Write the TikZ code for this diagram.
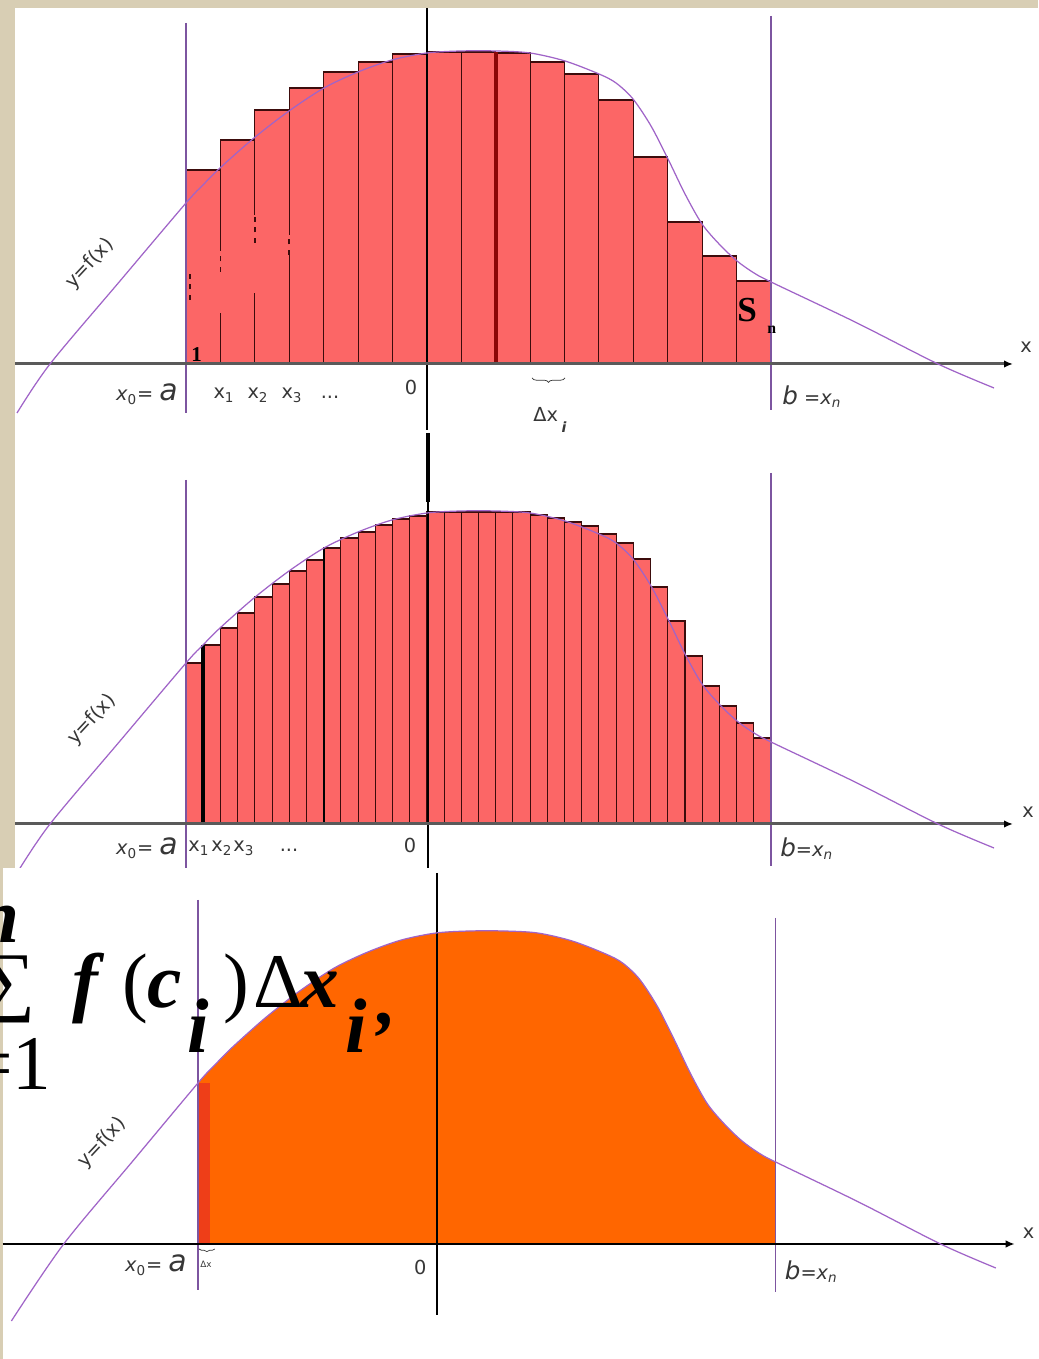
\documentclass[tikz,border=0pt]{standalone}
\usepackage{fontspec}
\setmainfont{Liberation Serif}
\newfontfamily\lblfont{DejaVu Sans}
\usepackage{tikz}
\usetikzlibrary{arrows.meta,decorations.pathreplacing}
\definecolor{paper}{RGB}{216,206,180}
\definecolor{barred}{RGB}{252,102,102}
\definecolor{barline}{RGB}{60,12,12}
\definecolor{areaorange}{RGB}{255,102,0}
\definecolor{stripred}{RGB}{238,62,24}
\definecolor{curvepurple}{RGB}{160,100,200}
\definecolor{boundpurple}{RGB}{125,85,160}
\definecolor{axisgray}{RGB}{90,90,90}
\definecolor{inkgray}{RGB}{55,55,55}
% the graph of f, started at the given lower-left point
\newcommand\fgraph[1]{plot[smooth] coordinates {#1 (50,0) (120,83) (186,161)
  (203,179) (220,196) (254,226) (289,253) (324,276) (358,292) (392,304) (427,311)
  (461,313) (496,313) (530,311) (565,303) (599,290) (616,281) (633,265) (651,238)
  (668,205) (685,170) (702,140) (720,119) (737,103) (754,91) (771,82) (855,42)
  (938,0) (994,-24)}}

\begin{document}
\begin{tikzpicture}[x=0.2mm, y=0.2mm,
    bar/.style={fill=barred, draw=barline, line width=0.6pt},
    axisline/.style={draw=axisgray, line width=1.7pt,
      -{Latex[length=1.8mm, width=1.5mm, color=black]}},
    yline/.style={draw=black, line width=0.8pt},
    bound/.style={draw=boundpurple, line width=0.8pt},
    graph/.style={draw=curvepurple, line width=0.7pt},
    lbl/.style={font=\lblfont\fontsize{11}{13}\selectfont, text=inkgray, inner sep=0pt},
    tag/.style={lbl, rotate=47},
    sumrm/.style={inner sep=0pt, anchor=base west, font=\fontsize{44}{48}\selectfont},
    sumbi/.style={sumrm, font=\fontsize{44}{48}\selectfont\bfseries\itshape}]
  \useasboundingbox (0,0) rectangle (1038,1359);
  % slide paper and the white cards
  \fill[paper] (0,0) rectangle (1038,1359);
  \fill[white] (15,489) rectangle (1038,1351);

  % top: 17 bars, right end points
  \begin{scope}[shift={(0,995)}]
    \foreach \h [count=\k from 0] in {194,224,254,276,292,302,310,312,312,311,
                                      302,290,264,207,142,108,83}
      \filldraw[bar] ({186+34.41*\k},0) rectangle ++(34.41,\h);
    \draw[barline!60!red, line width=2.2pt] (495.7,0) -- (495.7,312);
    % rubbed-out bits of the bar edges
    \foreach \x/\lo/\hi in {220.4/51/114, 254.8/71/149, 289.2/109/129}
      \draw[barred, line width=1.2pt] (\x,\lo) -- (\x,\hi);
    \foreach \x/\lo/\hi in {190/64/91, 220.4/92/114, 254.8/121/149, 289.2/109/129}
      \draw[barline, dashed, line width=0.9pt] (\x,\lo) -- (\x,\hi);
    \draw[yline] (427,356) -- (427,-66);
    \draw[bound] (186,341) -- (186,-49);
    \draw[bound] (771,348) -- (771,-46);
    \draw[axisline] (15,0) -- (1013,0);
    \draw[graph] \fgraph{(17,-49)};
    \node[lbl, anchor=base east] (xa1) at (178,-37)
      {{\itshape x}\textsubscript{0}= {\fontsize{17}{17}\selectfont\itshape a}};
    \foreach \x/\i in {224/1, 258/2, 292/3}
      \node[lbl, anchor=base] (ta\i) at (\x,-35) {x\textsubscript{\i}};
    \node[lbl, anchor=base] (dots1) at (330,-35) {...};
    \node[lbl, anchor=base] (zero1) at (411,-31) {0};
    \draw[decorate, decoration={brace, mirror, amplitude=2.5pt}, inkgray]
      (532,-14) -- (565,-14);
    \node[lbl, anchor=base west] (dx1) at (533,-58)
      {Δx\hspace{2pt}\raisebox{-2.2mm}{\fontsize{8}{8}\selectfont\bfseries\itshape i}};
    \node[lbl, anchor=base west] (bx1) at (782,-41)
      {{\fontsize{14}{14}\selectfont\itshape b} ={\itshape x}\textsubscript{\itshape n}};
    \node[lbl, anchor=base west] (xl1) at (1020,11) {x};
    \node[font=\bfseries\fontsize{20}{20}\selectfont, inner sep=0pt, anchor=base west]
      (s1) at (737,42) {S};
    \node[font=\bfseries\fontsize{9}{9}\selectfont, inner sep=0pt, anchor=base west]
      (n1) at (767,30) {n};
    \node[font=\bfseries\fontsize{12}{12}\selectfont, inner sep=0pt, anchor=base west]
      (one1) at (191,2) {1};
    \node[tag] (yf1) at (90,100) {y=f(x)};
  \end{scope}

  % middle: 34 bars, left end points
  \begin{scope}[shift={(0,535)}]
    \foreach \h [count=\k from 0] in {161,179,196,211,227,240,253,264,276,286,
                                      292,299,305,308,312,312,312,312,312,312,
                                      309,306,302,298,290,281,265,237,203,168,
                                      138,118,101,86}
      \filldraw[bar] ({186+17.206*\k},0) rectangle ++(17.206,\h);
    \draw[black, line width=2pt] (203.2,0) -- (203.2,179);
    \draw[black, line width=1.2pt] (323.7,0) -- (323.7,276);
    \draw[yline] (428,391) -- (428,-46);
    \draw[black, line width=2pt] (428,391) -- (428,322);
    \draw[bound] (186,344) -- (186,-46);
    \draw[bound] (771,351) -- (771,-42);
    \draw[axisline] (15,0) -- (1013,0);
    \draw[graph] \fgraph{(17,-49)};
    \node[lbl, anchor=base east] (xa2) at (178,-31)
      {{\itshape x}\textsubscript{0}= {\fontsize{17}{17}\selectfont\itshape a}};
    \foreach \x/\i in {188/1, 211/2, 233/3}
      \node[lbl, anchor=base west] (tb\i) at (\x,-28) {x\textsubscript{\i}};
    \node[lbl, anchor=base] (dots2) at (289,-28) {...};
    \node[lbl, anchor=base] (zero2) at (410,-29) {0};
    \node[lbl, anchor=base west] (bx2) at (780,-33)
      {{\fontsize{14}{14}\selectfont\itshape b}={\itshape x}\textsubscript{\itshape n}};
    \node[lbl, anchor=base west] (xl2) at (1022,6) {x};
    \node[tag] (yf2) at (92,104) {y=f(x)};
  \end{scope}

  % bottom: the area itself
  \fill[white] (3,0) rectangle (1038,491);
  \begin{scope}[shift={(14.35,115)}, xscale=0.9874]
    \begin{scope}
      \clip (186,0) rectangle (771,330);
      \fill[areaorange] \fgraph{(-3,-77)} -- (994,0) -- (-3,0) -- cycle;
    \end{scope}
    \fill[stripred] (186,0) rectangle (198,161);
    \draw[yline] (428,371) -- (428,-71);
    \draw[bound] (186,344) -- (186,-46);
    \draw[bound] (771,326) -- (771,-48);
    \draw[black, line width=0.8pt, -{Latex[length=1.8mm, width=1.5mm]}] (-12,0) -- (1013,0);
    \draw[graph] \fgraph{(-3,-77)};
    \node[lbl, anchor=base east] (xa3) at (175,-28)
      {{\itshape x}\textsubscript{0}= {\fontsize{17}{17}\selectfont\itshape a}};
    \draw[decorate, decoration={brace, mirror, amplitude=1.5pt}, inkgray]
      (187,-5) -- (203,-5);
    \node[lbl, anchor=base west, font=\lblfont\fontsize{5}{5}\selectfont] (dx3) at (188,-24) {Δx};
    \node[lbl, anchor=base] (zero3) at (411,-31) {0};
    \node[lbl, anchor=base west] (bx3) at (780,-36)
      {{\fontsize{14}{14}\selectfont\itshape b}={\itshape x}\textsubscript{\itshape n}};
    \node[lbl, anchor=base west] (xl3) at (1021,5) {x};
    \node[tag] (yf3) at (89,101) {y=f(x)};
  \end{scope}

  % the Riemann sum, cut by the left edge
  \node[sumbi] (top) at (-24,416) {n};
  \node[sumrm] (sig) at (-20,352) {∑};
  \node[sumrm, anchor=base east] (low) at (52,269) {=1};
  \foreach \px/\py/\st/\g [count=\n] in {72/351/sumbi/f, 122/351/sumrm/(,
      147/351/sumbi/c, 187/306/sumbi/i, 223/351/sumrm/), 253/351/sumrm/Δ,
      300/351/sumbi/x, 345/306/sumbi/i, 377/334/sumbi/{,}}
    \node[\st] (term\n) at (\px,\py) {\g};
\end{tikzpicture}
\end{document}
